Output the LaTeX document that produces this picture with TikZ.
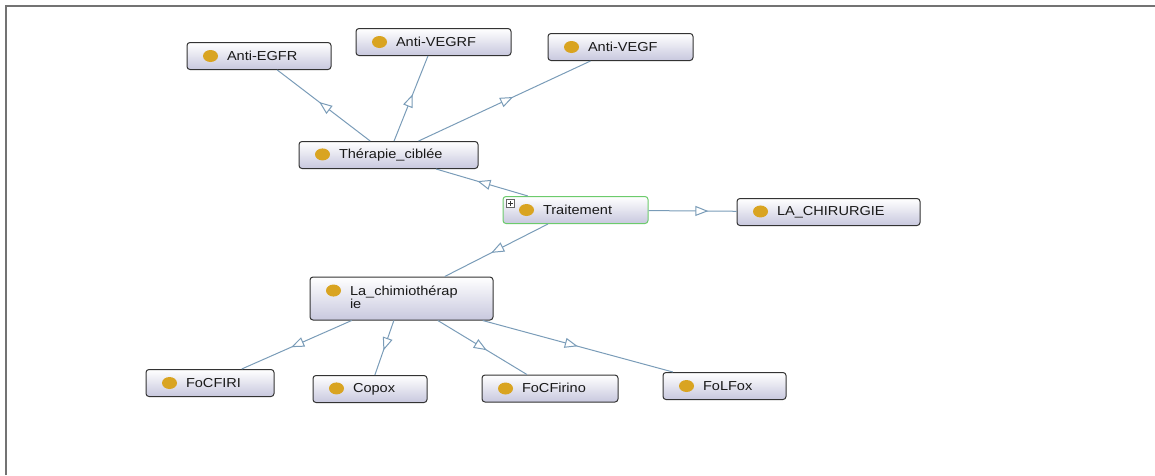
\documentclass[tikz,border=0pt]{standalone}
\usepackage{fontspec}
\setmainfont[FakeStretch=1.12]{Liberation Sans}
\usetikzlibrary{arrows.meta,decorations.markings,positioning}
\definecolor{owlgold}{HTML}{D9A421}
\definecolor{owledge}{HTML}{7A9CB8}
\definecolor{owlbottom}{HTML}{C8C8DE}
\definecolor{owlgreen}{HTML}{6CCB6C}
\newcommand{\owlball}{\tikz[baseline=-0.65ex]\fill[owlgold] (0,0) ellipse (7.5pt and 6pt);}
\newcommand{\owlclass}[1]{\hspace*{16pt}\owlball\hspace{9pt}#1}

\begin{document}
\begin{tikzpicture}[x=1pt,y=-1pt,
    every node/.style={font=\fontsize{13}{15}\selectfont,text=black!90},
    cls/.style={rectangle,rounded corners=3pt,draw=black!80,line width=1pt,
                top color=white,bottom color=owlbottom,inner xsep=0pt,
                text width=#1pt,align=left,minimum height=27pt},
    isa/.style={draw=owledge,line width=1pt,
                decoration={markings,mark=at position #1 with
                  {\arrow{Triangle[open,length=13pt,width=10pt,fill=white]}}},
                postaction=decorate},
    isa/.default=0.55]

  \useasboundingbox (0,0) rectangle (1155,475);
  % frame
  \draw[black!55,line width=1.6pt] (6,475) -- (6,6) -- (1155,6);

  % classes
  \node[cls=144] (antiegfr)  at (259,56)    {\owlclass{Anti-EGFR}};
  \node[cls=155] (antivegrf) at (433.5,42)  {\owlclass{Anti-VEGRF}};
  \node[cls=145] (antivegf)  at (620.5,47)  {\owlclass{Anti-VEGF}};
  \node[cls=179] (therapie)  at (388.5,155) {\owlclass{Thérapie\_ciblée}};
  \node[cls=145,draw=owlgreen] (traitement) at (575.5,210) {\owlclass{Traitement}};
  \node[cls=183] (chirurgie) at (828.5,212) {\owlclass{LA\_CHIRURGIE}};
  \node[cls=183,minimum height=43pt] (chimio) at (401.5,298.5)
        {\owlclass{\begin{tabular}[t]{@{}l@{}}La\_chimiothérap\\[-2pt]ie\end{tabular}}};
  \node[cls=128] (focfiri)   at (210,383)   {\owlclass{FoCFIRI}};
  \node[cls=114] (copox)     at (370,389)   {\owlclass{Copox}};
  \node[cls=136] (focfirino) at (550,388.5) {\owlclass{FoCFirino}};
  \node[cls=123] (folfox)    at (724.5,386) {\owlclass{FoLFox}};

  % expand box of Traitement
  \node[draw=black!60,fill=white,minimum size=8pt,inner sep=0pt,
        path picture={\draw[black!80,line width=0.7pt]
          ([xshift=-2.5pt]path picture bounding box.center) -- ++(5pt,0)
          ([yshift=-2.5pt]path picture bounding box.center) -- ++(0,5pt);}]
        (expand) at ([xshift=8pt,yshift=-7.5pt]traitement.north west) {};

  % is-a links
  \path (therapie)   edge[isa] (antiegfr)
                     edge[isa] (antivegrf)
                     edge[isa] (antivegf)
        (traitement) edge[isa] (therapie)
                     edge[isa=0.68] (chirurgie)
                     edge[isa] (chimio)
        (chimio)     edge[isa] (focfiri)
                     edge[isa] (copox)
                     edge[isa] (focfirino)
                     edge[isa=0.5] (folfox);
\end{tikzpicture}
\end{document}
